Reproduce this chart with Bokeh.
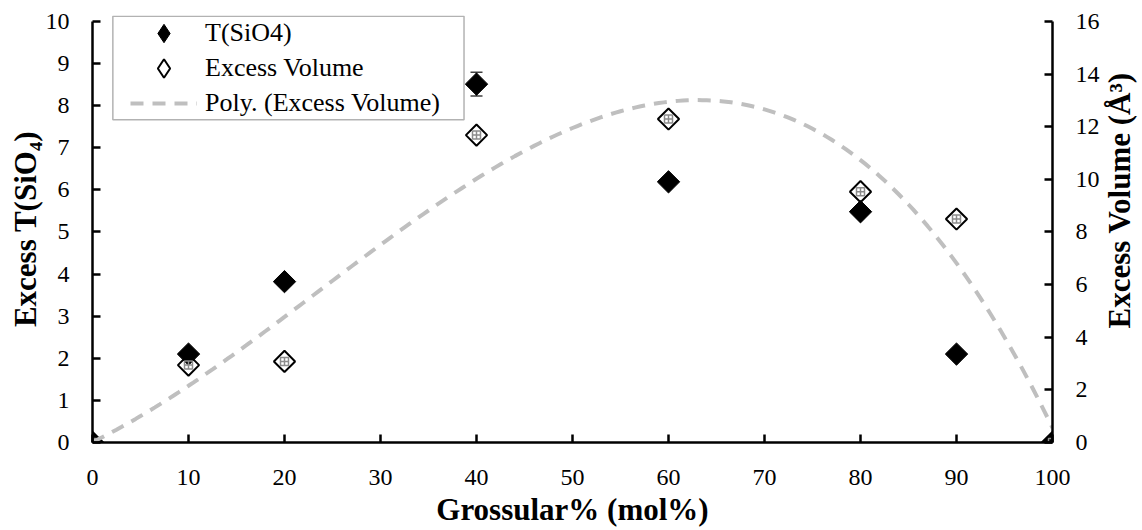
import math
import numpy as np
from bokeh.plotting import figure
from bokeh.layouts import row
from bokeh.models import (Range1d, LinearAxis, FixedTicker, Legend, LegendItem,
                          BoxAnnotation, Label)
from bokeh.embed import file_html
from bokeh.resources import INLINE

# ---------------- data ----------------
grossular = [0, 10, 20, 40, 60, 80, 90, 100]
t_sio4 = [0.0, 2.10, 3.82, 8.51, 6.19, 5.48, 2.10, 0.0]
t_err = [0.0, 0.0, 0.0, 0.28, 0.0, 0.0, 0.0, 0.0]
excess_volume = [0.0, 2.94, 3.08, 11.68, 12.29, 9.53, 8.49, 0.0]

x_ticks = [0, 10, 20, 30, 40, 50, 60, 70, 80, 90, 100]
left_ticks = [0, 1, 2, 3, 4, 5, 6, 7, 8, 9, 10]
right_ticks = [0, 2, 4, 6, 8, 10, 12, 14, 16]

x_title = "Grossular% (mol%)"
left_title = "Excess T(SiO\u2084)"
right_title = "Excess Volume (\u00c5\u00b3)"
legend_labels = ["T(SiO4)", "Excess Volume", "Poly. (Excess Volume)"]

# polynomial (3rd order) trendline fitted to the excess volume data
coef = np.polyfit(grossular, excess_volume, 3)
fit_x = np.linspace(0, 100, 201)
fit_y = np.polyval(coef, fit_x)

# ---------------- figure ----------------
FONT = "Liberation Serif"
TOP = 10.14                  # a little head-room above the last tick for the legend box
VOL_SCALE = 16 / 10
W_MAIN, W_SIDE, H = 1102, 40, 530
BOTTOM = 88

p = figure(width=W_MAIN, height=H, output_backend="svg", toolbar_location=None,
           x_range=Range1d(0, 100), y_range=Range1d(0, TOP),
           x_axis_type=None, y_axis_type=None,
           min_border_left=92, min_border_right=50, min_border_top=15,
           min_border_bottom=BOTTOM)
p.extra_y_ranges = {"vol": Range1d(0, TOP * VOL_SCALE)}
p.outline_line_color = None
p.background_fill_color = "white"
p.border_fill_color = "white"


def style_axis(ax, standoff):
    ax.axis_line_width = 2.5
    ax.axis_line_color = "black"
    ax.major_tick_line_width = 2.5
    ax.major_tick_line_color = "black"
    ax.major_tick_in = 8
    ax.major_tick_out = 0
    ax.minor_tick_line_color = None
    ax.major_label_text_font = FONT
    ax.major_label_text_font_size = "24px"
    ax.major_label_text_color = "black"
    ax.major_label_standoff = standoff
    ax.axis_label_text_font = FONT
    ax.axis_label_text_font_size = "31px"
    ax.axis_label_text_font_style = "bold"
    ax.axis_label_text_color = "black"


xaxis = LinearAxis(ticker=FixedTicker(ticks=x_ticks), bounds=(0, 100))
style_axis(xaxis, 27)
xaxis.axis_label = x_title
xaxis.axis_label_standoff = 4
p.add_layout(xaxis, "below")

yaxis = LinearAxis(ticker=FixedTicker(ticks=left_ticks), bounds=(0, 10))
style_axis(yaxis, 23)
yaxis.axis_label = left_title
yaxis.axis_label_standoff = 0
p.add_layout(yaxis, "left")

raxis = LinearAxis(y_range_name="vol", ticker=FixedTicker(ticks=right_ticks), bounds=(0, 16))
style_axis(raxis, 23)
p.add_layout(raxis, "right")

# ---------------- glyphs ----------------
t_lo = [t - e for t, e in zip(t_sio4, t_err)]
t_hi = [t + e for t, e in zip(t_sio4, t_err)]

p.scatter(grossular, excess_volume, y_range_name="vol", marker="square",
          angle=math.pi / 4, size=15, fill_color="white", line_color="black",
          line_width=2)
# error bars of T(SiO4), drawn below the filled markers
p.segment(grossular, t_lo, grossular, t_hi, line_color="#404040", line_width=1.5)
p.scatter(grossular, t_lo, marker="dash", size=12, line_color="#404040", line_width=1.5)
p.scatter(grossular, t_hi, marker="dash", size=12, line_color="#404040", line_width=1.5)
p.scatter(grossular, t_sio4, marker="square", angle=math.pi / 4, size=15.8,
          fill_color="black", line_color="black", line_width=1)
p.scatter(grossular, excess_volume, y_range_name="vol", marker="square_cross",
          size=8, fill_color=None, line_color="#8c8c8c", line_width=1.5)

r_fit = p.line(fit_x, fit_y, y_range_name="vol", line_color="#bfbfbf", line_width=4,
               line_dash="13 9")

# legend keys: same data drawn as diamonds, hidden in the plot, shown only in the legend
key_t = p.scatter(grossular, t_sio4, marker="diamond", fill_color="black",
                  line_color="black", line_width=1, visible=False)
key_v = p.scatter(grossular, excess_volume, y_range_name="vol", marker="diamond",
                  fill_color="white", line_color="black", line_width=2, visible=False)

# ---------------- legend ----------------
p.add_layout(BoxAnnotation(left=2.12, right=38.7, top=10.12, bottom=7.665,
                           fill_color="white", fill_alpha=1.0,
                           line_color="black", line_width=1.5))

ROW_H, ROW_PITCH, FIRST_ROW = 46, 35, 33        # px
frame_bottom = H - BOTTOM
for i, (lab, rend) in enumerate(zip(legend_labels, [key_t, key_v, r_fit])):
    centre = FIRST_ROW + i * ROW_PITCH
    lg = Legend(items=[LegendItem(label=lab, renderers=[rend])],
                location=(38, frame_bottom - centre - ROW_H / 2),
                padding=0, margin=0, spacing=0,
                glyph_width=67, glyph_height=ROW_H, label_height=32, label_standoff=8,
                label_text_font=FONT, label_text_font_size="26px",
                label_text_color="black",
                border_line_color=None, background_fill_alpha=0,
                inactive_fill_alpha=0)
    p.add_layout(lg)

# ---------------- right-hand axis title (reads bottom to top) ----------------
q = figure(width=W_SIDE, height=H, output_backend="svg", toolbar_location=None,
           x_range=Range1d(0, W_SIDE), y_range=Range1d(0, H),
           x_axis_type=None, y_axis_type=None,
           min_border_left=0, min_border_right=0, min_border_top=0, min_border_bottom=0)
q.outline_line_color = None
q.background_fill_color = "white"
q.border_fill_color = "white"
q.add_layout(Label(x=17, y=H - 229.5, text=right_title, angle=math.pi / 2,
                   text_font=FONT, text_font_size="31px", text_font_style="bold",
                   text_color="black", text_align="center", text_baseline="middle"))

layout = row(p, q, spacing=0)
open("out.html", "w").write(file_html(layout, INLINE))
